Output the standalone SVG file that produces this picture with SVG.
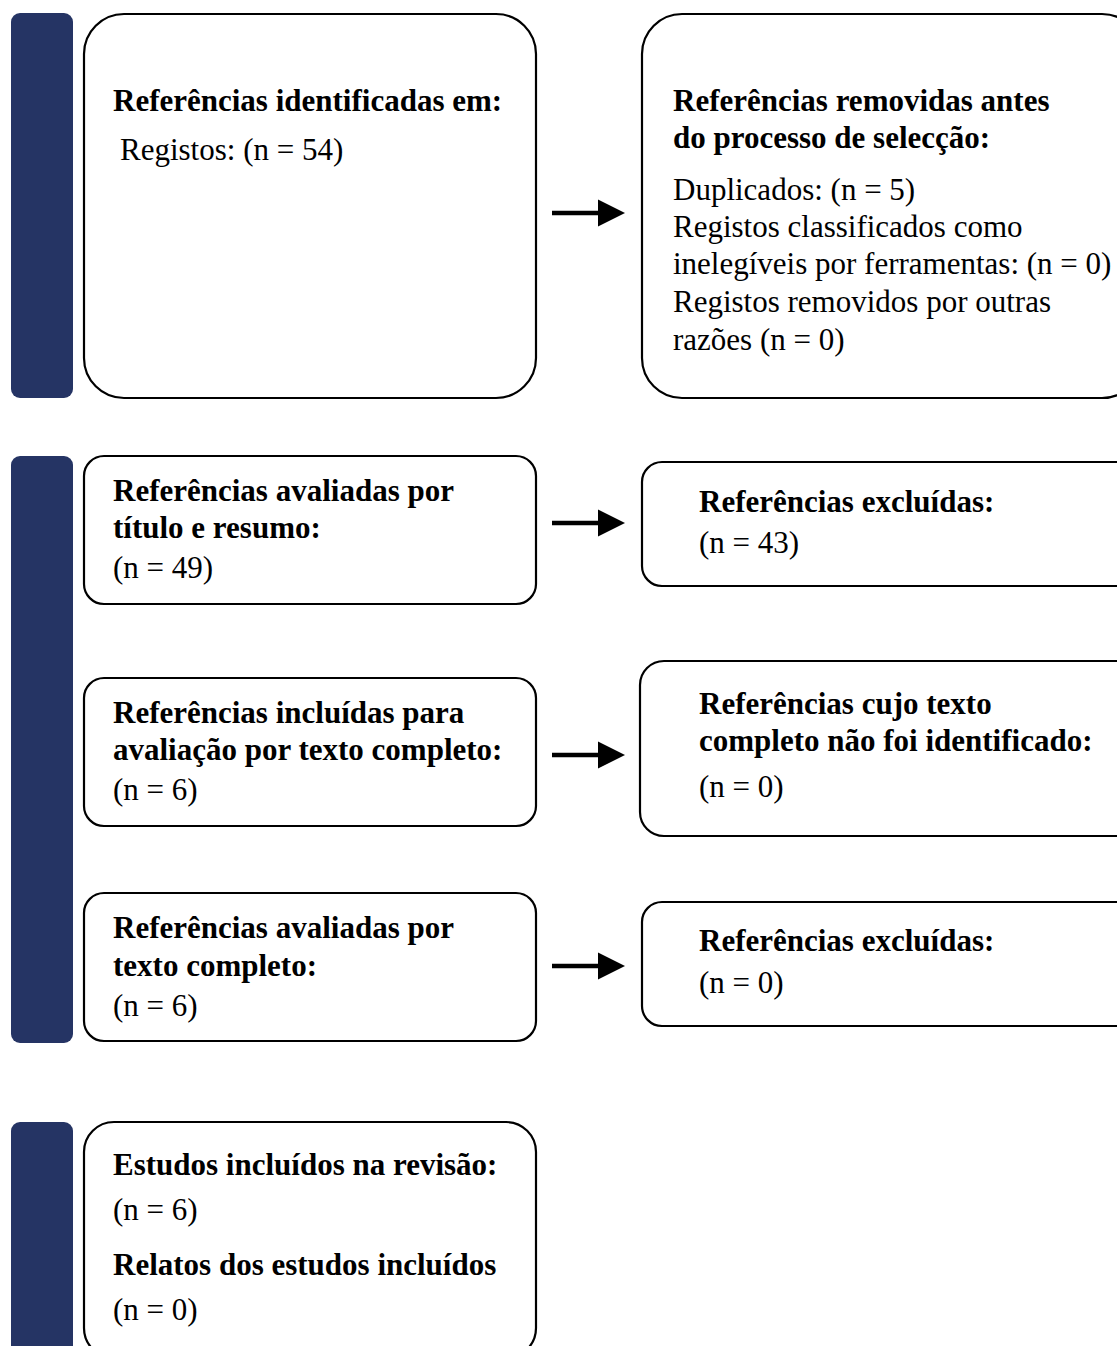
<svg xmlns="http://www.w3.org/2000/svg" width="1117" height="1346" viewBox="0 0 1117 1346">
<style>
.bar{fill:#253464}
.box{fill:#fff;stroke:#000;stroke-width:2.2}
.b{font-family:"Liberation Serif","Times New Roman",serif;font-weight:bold;font-size:31px;fill:#000}
.r{font-family:"Liberation Serif","Times New Roman",serif;font-size:31px;fill:#000}
.arr{stroke:#000;stroke-width:4.5;fill:none}
</style>
<defs>
<marker id="ah" viewBox="0 0 10 10" refX="0" refY="5" markerWidth="6" markerHeight="6.6" markerUnits="strokeWidth" orient="auto">
<path d="M0,0 L10,5 L0,10 Z" fill="#000"/>
</marker>
</defs>
<rect width="1117" height="1346" fill="#fff"/>
<g id="bars">
<rect class="bar" x="11" y="13" width="62" height="385" rx="9"/>
<rect class="bar" x="11" y="456" width="62" height="587" rx="9"/>
<rect class="bar" x="11" y="1122" width="62" height="240" rx="9"/>
</g>
<g id="n1">
<rect class="box" x="84" y="14" width="452" height="384" rx="40"/>
<text class="b" x="113" y="111">Referências identificadas em:</text>
<text class="r" x="120" y="160">Registos: (n = 54)</text>
</g>
<g id="n2">
<rect class="box" x="642" y="14" width="500" height="384" rx="40"/>
<text class="b" x="673" y="111">Referências removidas antes</text>
<text class="b" x="673" y="148">do processo de selecção:</text>
<text class="r" x="673" y="200">Duplicados: (n = 5)</text>
<text class="r" x="673" y="237">Registos classificados como</text>
<text class="r" x="673" y="274">inelegíveis por ferramentas: (n = 0)</text>
<text class="r" x="673" y="312">Registos removidos por outras</text>
<text class="r" x="673" y="350">razões (n = 0)</text>
</g>
<g id="n3">
<rect class="box" x="84" y="456" width="452" height="148" rx="20"/>
<text class="b" x="113" y="501">Referências avaliadas por</text>
<text class="b" x="113" y="538">título e resumo:</text>
<text class="r" x="113" y="578">(n = 49)</text>
</g>
<g id="n4">
<rect class="box" x="642" y="462" width="500" height="124" rx="20"/>
<text class="b" x="699" y="512">Referências excluídas:</text>
<text class="r" x="699" y="553">(n = 43)</text>
</g>
<g id="n5">
<rect class="box" x="84" y="678" width="452" height="148" rx="20"/>
<text class="b" x="113" y="723">Referências incluídas para</text>
<text class="b" x="113" y="760">avaliação por texto completo:</text>
<text class="r" x="113" y="800">(n = 6)</text>
</g>
<g id="n6">
<rect class="box" x="640" y="661" width="502" height="175" rx="24"/>
<text class="b" x="699" y="714">Referências cujo texto</text>
<text class="b" x="699" y="751">completo não foi identificado:</text>
<text class="r" x="699" y="797">(n = 0)</text>
</g>
<g id="n7">
<rect class="box" x="84" y="893" width="452" height="148" rx="20"/>
<text class="b" x="113" y="938">Referências avaliadas por</text>
<text class="b" x="113" y="976">texto completo:</text>
<text class="r" x="113" y="1016">(n = 6)</text>
</g>
<g id="n8">
<rect class="box" x="642" y="902" width="500" height="124" rx="20"/>
<text class="b" x="699" y="951">Referências excluídas:</text>
<text class="r" x="699" y="993">(n = 0)</text>
</g>
<g id="n9">
<rect class="box" x="84" y="1122" width="452" height="236" rx="30"/>
<text class="b" x="113" y="1175">Estudos incluídos na revisão:</text>
<text class="r" x="113" y="1220">(n = 6)</text>
<text class="b" x="113" y="1275">Relatos dos estudos incluídos</text>
<text class="r" x="113" y="1320">(n = 0)</text>
</g>
<g id="connectors">
<line class="arr" x1="552" y1="213" x2="598" y2="213" marker-end="url(#ah)"/>
<line class="arr" x1="552" y1="523" x2="598" y2="523" marker-end="url(#ah)"/>
<line class="arr" x1="552" y1="755" x2="598" y2="755" marker-end="url(#ah)"/>
<line class="arr" x1="552" y1="966" x2="598" y2="966" marker-end="url(#ah)"/>
</g>
</svg>
